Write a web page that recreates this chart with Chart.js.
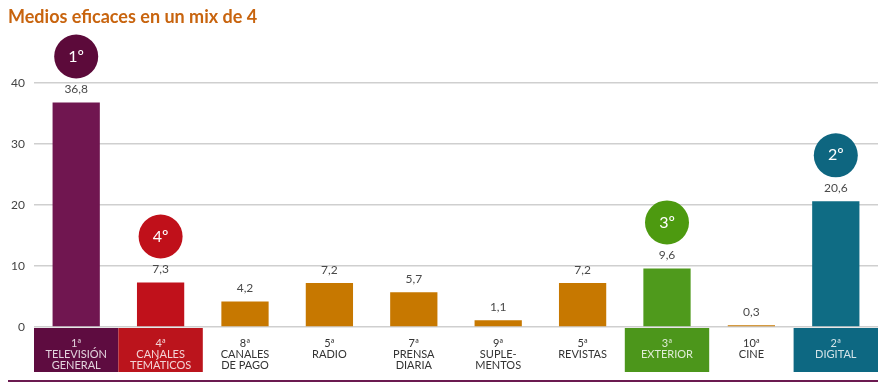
<!DOCTYPE html>
<html>
<head>
<meta charset="utf-8">
<script src="https://cdn.jsdelivr.net/npm/chart.js@4"></script>
<style>
  html, body { margin: 0; padding: 0; background: #fff; }
  #wrap { width: 890px; height: 387px; }
</style>
</head>
<body>
<div id="wrap"><canvas id="grafico" width="890" height="387"></canvas></div>
<script>
const puestos = ["1ª", "4ª", "8ª", "5ª", "7ª", "9ª", "5ª", "3ª", "10ª", "2ª"];
const medios = [
    ["TELEVISIÓN", "GENERAL"],
    ["CANALES", "TEMÁTICOS"],
    ["CANALES", "DE PAGO"],
    ["RADIO"],
    ["PRENSA", "DIARIA"],
    ["SUPLE-", "MENTOS"],
    ["REVISTAS"],
    ["EXTERIOR"],
    ["CINE"],
    ["DIGITAL"],
];
const valores = [36.8, 7.3, 4.2, 7.2, 5.7, 1.1, 7.2, 9.6, 0.3, 20.6];
const medallas = ["1º", "4º", null, null, null, null, null, "3º", null, "2º"];
const ticksY = [0, 10, 20, 30, 40];

const naranja = "#c77800";
const coloresBarra = ["#701650", "#c0111b", naranja, naranja, naranja, naranja, naranja, "#4f9a1c", naranja, "#0f6c84"];
const coloresCaja = ["#5e0c40", "#bb141c", null, null, null, null, null, "#4c961b", null, "#0d6882"];
const coloresMedalla = ["#5c0a3a", "#c0101a", null, null, null, null, null, "#4d9a10", null, "#0e6680"];

const etiquetas = puestos.map((p, i) => [p].concat(medios[i]));

const extras = {
    id: "extras",
    beforeDraw(chart) {
        const ctx = chart.ctx;
        const x = chart.scales.x;
        const area = chart.chartArea;
        const paso = x.getPixelForValue(1) - x.getPixelForValue(0);
        ctx.save();
        coloresCaja.forEach((c, i) => {
            if (!c) return;
            const cx = x.getPixelForValue(i);
            ctx.fillStyle = c;
            ctx.fillRect(cx - paso / 2, area.bottom + 1, paso, 44);
        });
        ctx.restore();
    },
    afterDatasetsDraw(chart) {
        const ctx = chart.ctx;
        const meta = chart.getDatasetMeta(0);
        ctx.save();
        ctx.textAlign = "center";
        ctx.textBaseline = "middle";
        meta.data.forEach((bar, i) => {
            ctx.fillStyle = "#4a4a4a";
            ctx.font = "12px Lato";
            ctx.fillText(valores[i].toString().replace(".", ","), bar.x, bar.y - 13);
            if (medallas[i]) {
                ctx.beginPath();
                ctx.arc(bar.x, bar.y - 46, 22, 0, Math.PI * 2);
                ctx.fillStyle = coloresMedalla[i];
                ctx.fill();
                ctx.fillStyle = "#ffffff";
                ctx.font = "16px Lato";
                ctx.fillText(medallas[i], bar.x, bar.y - 46);
            }
        });
        // titulo
        ctx.textAlign = "left";
        ctx.fillStyle = "#c8640e";
        ctx.font = "bold 18px Lato";
        ctx.fillText("Medios eficaces en un mix de 4", 8, 17);
        // linea inferior
        ctx.strokeStyle = "#6b1a50";
        ctx.lineWidth = 2;
        ctx.beginPath();
        ctx.moveTo(8, 381);
        ctx.lineTo(chart.chartArea.right, 381);
        ctx.stroke();
        ctx.restore();
    },
};

const grafico = new Chart(document.getElementById("grafico"), {
    type: "bar",
    data: {
        labels: etiquetas,
        datasets: [
            {
                label: "Medios",
                data: valores,
                backgroundColor: coloresBarra,
                barPercentage: 0.56,
                categoryPercentage: 1,
            },
        ],
    },
    options: {
        responsive: false,
        animation: false,
        layout: {
            padding: { top: 83, right: 12, bottom: 4, left: 0 },
        },
        plugins: {
            legend: { display: false },
            tooltip: { enabled: false },
        },
        scales: {
            x: {
                grid: { display: false },
                border: { display: false },
                afterFit: (s) => { s.height = 56; },
                ticks: {
                    padding: 3,
                    maxRotation: 0,
                    autoSkip: false,
                    font: { family: "Lato", size: 11, lineHeight: 1.0 },
                    color: (c) => (coloresCaja[c.index] ? "rgba(255,255,255,0.82)" : "#333333"),
                },
            },
            y: {
                min: 0,
                max: 40,
                afterFit: (s) => { s.width = 34; },
                afterBuildTicks: (s) => { s.ticks = ticksY.map((v) => ({ value: v })); },
                border: { display: false },
                grid: { color: "#cfcfcf", lineWidth: 1.5, drawTicks: false },
                ticks: {
                    padding: 9,
                    color: "#444444",
                    font: { family: "Lato", size: 12 },
                },
            },
        },
    },
    plugins: [extras],
});
</script>
</body>
</html>
